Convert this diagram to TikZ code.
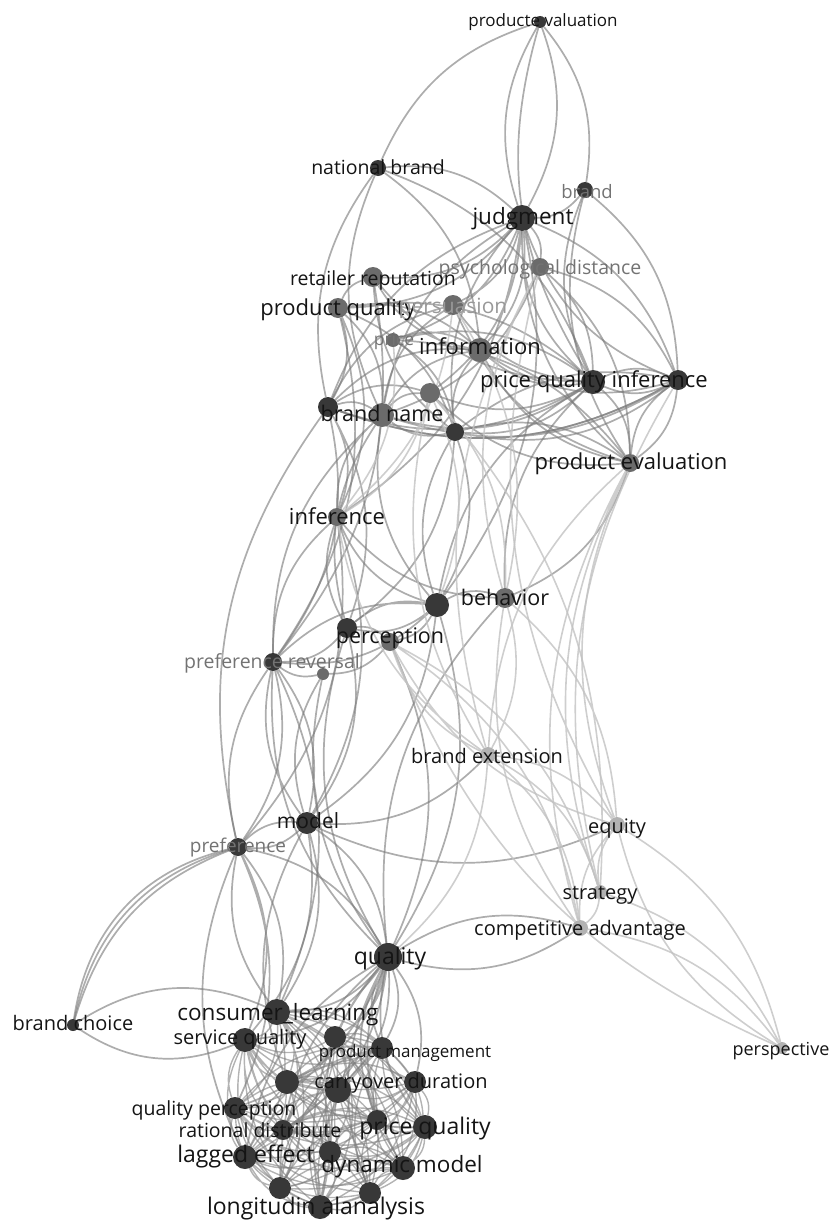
\documentclass[tikz,border=0pt]{standalone}
\usepackage{fontspec}
\setmainfont{Open Sans}
\usetikzlibrary{positioning}
\pgfdeclarelayer{bg}
\pgfsetlayers{bg,main}

\tikzset{
  kw/.style={circle, inner sep=0pt, minimum size=#1},
  ndark/.style={fill=black!78},
  nmid/.style={fill=black!58},
  npale/.style={fill=black!30},
  lbl/.style={inner sep=0pt, yshift=-5pt, text height=0.74em, text depth=0.2em, font=\fontsize{#1}{#1}\selectfont, text=black!92},
  gtxt/.style={text=black!55},
  arcL/.style={draw=black!52, line width=1.7pt, opacity=0.62, bend left=24},
  arcR/.style={arcL, bend right=24},
  faintL/.style={draw=black!24, line width=1.6pt, opacity=0.8, bend left=22},
  faintR/.style={faintL, bend right=22},
  denseL/.style={draw=black!50, line width=1.4pt, opacity=0.6, bend left=26},
  denseR/.style={denseL, bend right=26}
}

\begin{document}
\begin{tikzpicture}[x=1pt,y=-1pt]
\useasboundingbox (0,0) rectangle (833,1223);

\node[kw=12,ndark] (pv) at (540,22) {};
\node[kw=16,ndark] (nb) at (378,168) {};
\node[kw=16,ndark] (br) at (585,190) {};
\node[kw=26,ndark] (jd) at (522,218) {};
\node[kw=18,nmid] (pd) at (540,267) {};
\node[kw=20,nmid] (rr) at (373,277) {};
\node[kw=20,nmid] (pq) at (338,308) {};
\node[kw=20,nmid] (ps) at (453,305) {};
\node[kw=14,nmid] (pr) at (393,340) {};
\node[kw=24,nmid] (inf) at (480,350) {};
\node[kw=24,ndark] (pqi) at (593,382) {};
\node[kw=20,ndark] (u1) at (678,380) {};
\node[kw=20,nmid] (u2) at (430,393) {};
\node[kw=20,ndark] (u3) at (328,407) {};
\node[kw=24,nmid] (bn) at (382,415) {};
\node[kw=18,ndark] (u4) at (455,432) {};
\node[kw=18,nmid] (pe) at (630,463) {};
\node[kw=18,nmid] (ifr) at (337,517) {};
\node[kw=24,ndark] (bhd) at (437,605) {};
\node[kw=20,nmid] (bh) at (505,598) {};
\node[kw=20,ndark] (pcd) at (347,628) {};
\node[kw=18,nmid] (pc) at (390,642) {};
\node[kw=18,ndark] (prv) at (273,662) {};
\node[kw=12,nmid] (u7) at (323,674) {};
\node[kw=16,npale] (be) at (488,755) {};
\node[kw=22,ndark] (md) at (307,823) {};
\node[kw=18,ndark] (pf) at (238,847) {};
\node[kw=16,npale] (eq) at (617,825) {};
\node[kw=14,npale] (st) at (600,892) {};
\node[kw=16,npale] (ca) at (580,928) {};
\node[kw=28,ndark] (ql) at (388,957) {};
\node[kw=12,ndark] (bc) at (73,1025) {};
\node[kw=12,npale] (pp) at (782,1048) {};
\node[kw=26,ndark] (cl) at (277,1012) {};
\node[kw=24,ndark] (sq) at (245,1040) {};
\node[kw=22,ndark] (b1) at (335,1037) {};
\node[kw=22,ndark] (pm) at (382,1048) {};
\node[kw=24,ndark] (b2) at (287,1082) {};
\node[kw=26,ndark] (co) at (338,1090) {};
\node[kw=22,ndark] (b3) at (415,1082) {};
\node[kw=22,ndark] (qp) at (235,1108) {};
\node[kw=20,ndark] (rd) at (283,1130) {};
\node[kw=20,ndark] (b4) at (377,1120) {};
\node[kw=24,ndark] (pqn) at (425,1127) {};
\node[kw=24,ndark] (le) at (245,1157) {};
\node[kw=22,ndark] (b5) at (330,1152) {};
\node[kw=24,ndark] (dm) at (403,1168) {};
\node[kw=22,ndark] (b6) at (280,1188) {};
\node[kw=24,ndark] (la) at (320,1207) {};
\node[kw=22,ndark] (b7) at (370,1193) {};

\begin{pgfonlayer}{bg}
\draw[arcR] (pv) to (nb);
\draw[arcL] (pv) to (jd);
\draw[arcR] (pv) to (jd);
\draw[arcL] (pv) to (br);
\draw[arcR] (pv) to (pqi);
\draw[arcL] (nb) to (jd);
\draw[arcR] (nb) to (bn);
\draw[arcL] (nb) to (inf);
\draw[arcR] (nb) to (u3);
\draw[arcL] (nb) to (pqi);
\draw[arcL] (br) to (jd);
\draw[arcR] (br) to (pqi);
\draw[arcL] (br) to (u1);
\draw[arcR] (br) to (pe);
\draw[arcL] (jd) to (pd) (jd) to (rr) (jd) to (pq) (jd) to (ps) (jd) to (pr) (jd) to (inf);
\draw[arcR] (jd) to (pqi) (jd) to (u1) (jd) to (bn) (jd) to (u3) (jd) to (u4) (jd) to (pe);
\draw[arcL] (jd) to (u2) (jd) to (bhd) (jd) to (ifr) (jd) to (u1);
\draw[arcL] (pd) to (pqi) (pd) to (u1) (pd) to (bn) (pd) to (pe);
\draw[arcR] (rr) to (pq) (rr) to (pqi) (rr) to (inf) (rr) to (u4);
\draw[arcL] (pq) to (inf) (pq) to (pqi) (pq) to (u3) (pq) to (bn) (pq) to (u4) (pq) to (ifr);
\draw[arcR] (ps) to (u3) (ps) to (pqi) (ps) to (bn) (ps) to (pe);
\draw[arcL] (pr) to (inf) (pr) to (pqi) (pr) to (u4) (pr) to (pe);
\draw[arcR] (inf) to (pqi) (inf) to (u1) (inf) to (u3) (inf) to (bn) (inf) to (u4) (inf) to (pe);
\draw[arcL] (pqi) to (u1) (pqi) to (u3) (pqi) to (bn) (pqi) to (u4) (pqi) to (pe);
\draw[arcR] (pqi) to (u1) (pqi) to (bhd) (pqi) to (bh);
\draw[arcL] (u1) to (pe) (u1) to (bn) (u1) to (u4) (u1) to (u3);
\draw[arcR] (u2) to (bn) (u2) to (pe) (u2) to (u3) (u2) to (pqi);
\draw[arcL] (u3) to (bn) (u3) to (ifr) (u3) to (prv) (u3) to (pcd);
\draw[arcR] (u3) to (pf) (u3) to (u1);
\draw[arcR] (bn) to (u4) (bn) to (ifr) (bn) to (pcd) (bn) to (bhd) (bn) to (prv);
\draw[arcL] (u4) to (bhd) (u4) to (pcd) (u4) to (pe) (u4) to (u1);
\draw[arcR] (u4) to (bhd);
\draw[arcL] (pe) to (bh) (pe) to (u1);
\draw[arcR] (ifr) to (pcd) (ifr) to (bhd) (ifr) to (prv) (ifr) to (bh);
\draw[arcL] (ifr) to (pf) (ifr) to (md);
\draw[arcL] (pq) to (prv) (rr) to (prv);
\draw[arcL] (bhd) to (pcd) (bhd) to (prv) (bhd) to (md) (bhd) to (pc) (bhd) to (bh);
\draw[arcR] (bhd) to (pcd) (bhd) to (prv);
\draw[arcL] (pcd) to (prv) (pcd) to (md) (pcd) to (pc);
\draw[arcR] (prv) to (md) (prv) to (pf) (prv) to (u7) (prv) to (ql);
\draw[arcL] (prv) to (md) (prv) to (pf) (prv) to (cl);
\draw[arcR] (u7) to (pc) (u7) to (md) (u7) to (ql);
\draw[arcL] (md) to (pf) (md) to (ql) (md) to (cl) (md) to (sq);
\draw[arcR] (md) to (pf) (md) to (b2);
\draw[arcR] (md) to (eq);
\draw[arcL] (be) to (md);
\draw[arcL, bend left=26] (bc) to (pf);
\draw[arcL, bend left=30] (bc) to (pf);
\draw[arcL, bend left=34] (bc) to (pf);
\draw[arcL, bend left=28] (bc) to (cl);
\draw[arcR, bend right=28] (bc) to (sq);
\draw[arcL] (pf) to (ql) (pf) to (cl) (pf) to (sq) (pf) to (qp);
\draw[arcR] (pf) to (cl) (pf) to (le);
\draw[arcL] (bhd) to (ql) (pc) to (ql);
\draw[arcR] (bh) to (ql) (pcd) to (ql);
\draw[faintL] (u2) to (ifr) (u2) to (bhd) (u2) to (bh) (ps) to (ifr) (ps) to (bh) (pr) to (ifr);
\draw[faintR] (pd) to (bh) (pd) to (be) (u2) to (be) (pe) to (be) (ifr) to (be) (pc) to (eq);
\draw[faintL] (be) to (st) (be) to (ca) (be) to (pc) (be) to (eq) (be) to (ql);
\draw[faintR] (eq) to (st) (eq) to (pp) (eq) to (ca);
\draw[faintL] (st) to (pp) (st) to (ca) (ca) to (pp) (eq) to (pp);
\draw[faintR] (pd) to (eq) (pe) to (st) (pe) to (eq) (pe) to (ca);
\draw[faintL] (u2) to (st) (pc) to (st) (pc) to (ca) (bh) to (eq) (bh) to (be);
\draw[faintR] (pc) to (pp) (u1) to (st) (bh) to (ca);
\draw[arcL] (ql) to (ca);
\draw[arcR] (ql) to (ca);
\draw[arcL] (ql) to (cl) (ql) to (sq) (ql) to (b1) (ql) to (pm) (ql) to (b2) (ql) to (co) (ql) to (b3) (ql) to (qp) (ql) to (rd);
\draw[arcR] (ql) to (b4) (ql) to (pqn) (ql) to (le) (ql) to (b5) (ql) to (dm) (ql) to (b6) (ql) to (la) (ql) to (b7) (ql) to (pm);
\draw[denseL] (cl) to (sq) (cl) to (b1) (cl) to (pm) (cl) to (b2) (cl) to (co) (cl) to (b3) (cl) to (qp) (cl) to (rd) (cl) to (b4) (cl) to (pqn) (cl) to (le) (cl) to (b5) (cl) to (dm) (cl) to (b6) (cl) to (la) (cl) to (b7);
\draw[denseR] (sq) to (b1) (sq) to (pm) (sq) to (b2) (sq) to (co) (sq) to (b3) (sq) to (qp) (sq) to (rd) (sq) to (b4) (sq) to (pqn) (sq) to (le) (sq) to (b5) (sq) to (dm) (sq) to (b6) (sq) to (la) (sq) to (b7);
\draw[denseL] (b1) to (pm) (b1) to (b2) (b1) to (co) (b1) to (b3) (b1) to (qp) (b1) to (rd) (b1) to (b4) (b1) to (pqn) (b1) to (le) (b1) to (b5) (b1) to (dm) (b1) to (b6) (b1) to (la) (b1) to (b7);
\draw[denseR] (pm) to (b2) (pm) to (co) (pm) to (b3) (pm) to (qp) (pm) to (rd) (pm) to (b4) (pm) to (pqn) (pm) to (le) (pm) to (b5) (pm) to (dm) (pm) to (b6) (pm) to (la) (pm) to (b7);
\draw[denseL] (b2) to (co) (b2) to (b3) (b2) to (qp) (b2) to (rd) (b2) to (b4) (b2) to (pqn) (b2) to (le) (b2) to (b5) (b2) to (dm) (b2) to (b6) (b2) to (la) (b2) to (b7);
\draw[denseR] (co) to (b3) (co) to (qp) (co) to (rd) (co) to (b4) (co) to (pqn) (co) to (le) (co) to (b5) (co) to (dm) (co) to (b6) (co) to (la) (co) to (b7);
\draw[denseL] (b3) to (qp) (b3) to (rd) (b3) to (b4) (b3) to (pqn) (b3) to (le) (b3) to (b5) (b3) to (dm) (b3) to (b6) (b3) to (la) (b3) to (b7);
\draw[denseR] (qp) to (rd) (qp) to (b4) (qp) to (pqn) (qp) to (le) (qp) to (b5) (qp) to (dm) (qp) to (b6) (qp) to (la) (qp) to (b7);
\draw[denseL] (rd) to (b4) (rd) to (pqn) (rd) to (le) (rd) to (b5) (rd) to (dm) (rd) to (b6) (rd) to (la) (rd) to (b7);
\draw[denseR] (b4) to (pqn) (b4) to (le) (b4) to (b5) (b4) to (dm) (b4) to (b6) (b4) to (la) (b4) to (b7);
\draw[denseL] (pqn) to (le) (pqn) to (b5) (pqn) to (dm) (pqn) to (b6) (pqn) to (la) (pqn) to (b7);
\draw[denseR] (le) to (b5) (le) to (dm) (le) to (b6) (le) to (la) (le) to (b7);
\draw[denseL] (b5) to (dm) (b5) to (b6) (b5) to (la) (b5) to (b7);
\draw[denseR] (dm) to (b6) (dm) to (la) (dm) to (b7) (b6) to (la) (b6) to (b7) (la) to (b7);
\end{pgfonlayer}

\node[lbl=17] (pv-t) at (543,19) {producte valuation};
\node[lbl=19.5] (nb-t) at (378,167) {national brand};
\node[lbl=18.5,gtxt] (br-t) at (587,191) {brand};
\node[lbl=22.5] (jd-t) at (523,217) {judgment};
\node[lbl=19.5,gtxt] (pd-t) at (540,267) {psychological distance};
\node[lbl=19.5] (rr-t) at (373,278) {retailer reputation};
\node[lbl=22] (pq-t) at (338,308) {product quality};
\node[lbl=21,text=black!40] (ps-t) at (453,306) {persuasion};
\node[lbl=17.5,gtxt] (pr-t) at (394,338) {price};
\node[lbl=22] (inf-t) at (480,347) {information};
\node[lbl=22] (pqi-t) at (594,380) {price quality inference};
\node[lbl=21.5] (bn-t) at (382,414) {brand name};
\node[lbl=22] (pe-t) at (631,462) {product evaluation};
\node[lbl=22] (ifr-t) at (337,517) {inference};
\node[lbl=21.5] (bh-t) at (505,598) {behavior};
\node[lbl=21.5] (pc-t) at (390,636) {perception};
\node[lbl=19.5,gtxt] (prv-t) at (272,661) {preference reversal};
\node[lbl=20] (be-t) at (487,756) {brand extension};
\node[lbl=21] (md-t) at (308,821) {model};
\node[lbl=19,gtxt] (pf-t) at (238,845) {preference};
\node[lbl=20] (eq-t) at (617,826) {equity};
\node[lbl=20] (st-t) at (600,892) {strategy};
\node[lbl=20] (ca-t) at (580,928) {competitive advantage};
\node[lbl=23] (ql-t) at (390,957) {quality};
\node[lbl=20] (bc-t) at (73,1023) {brand choice};
\node[lbl=18] (pp-t) at (781,1048) {perspective};
\node[lbl=22.5] (cl-t) at (278,1013) {consumer\_learning};
\node[lbl=20] (sq-t) at (240,1037) {service quality};
\node[lbl=17] (pm-t) at (405,1050) {product management};
\node[lbl=20] (co-t) at (401,1081) {carryover duration};
\node[lbl=19.5] (qp-t) at (214,1108) {quality perception};
\node[lbl=19.5] (rd-t) at (260,1130) {rational distribute};
\node[lbl=23] (pqn-t) at (425,1127) {price quality};
\node[lbl=23] (le-t) at (246,1155) {lagged effect};
\node[lbl=22.5] (dm-t) at (402,1165) {dynamic model};
\node[lbl=23] (la-t) at (316,1207) {longitudin alanalysis};

\end{tikzpicture}
\end{document}
